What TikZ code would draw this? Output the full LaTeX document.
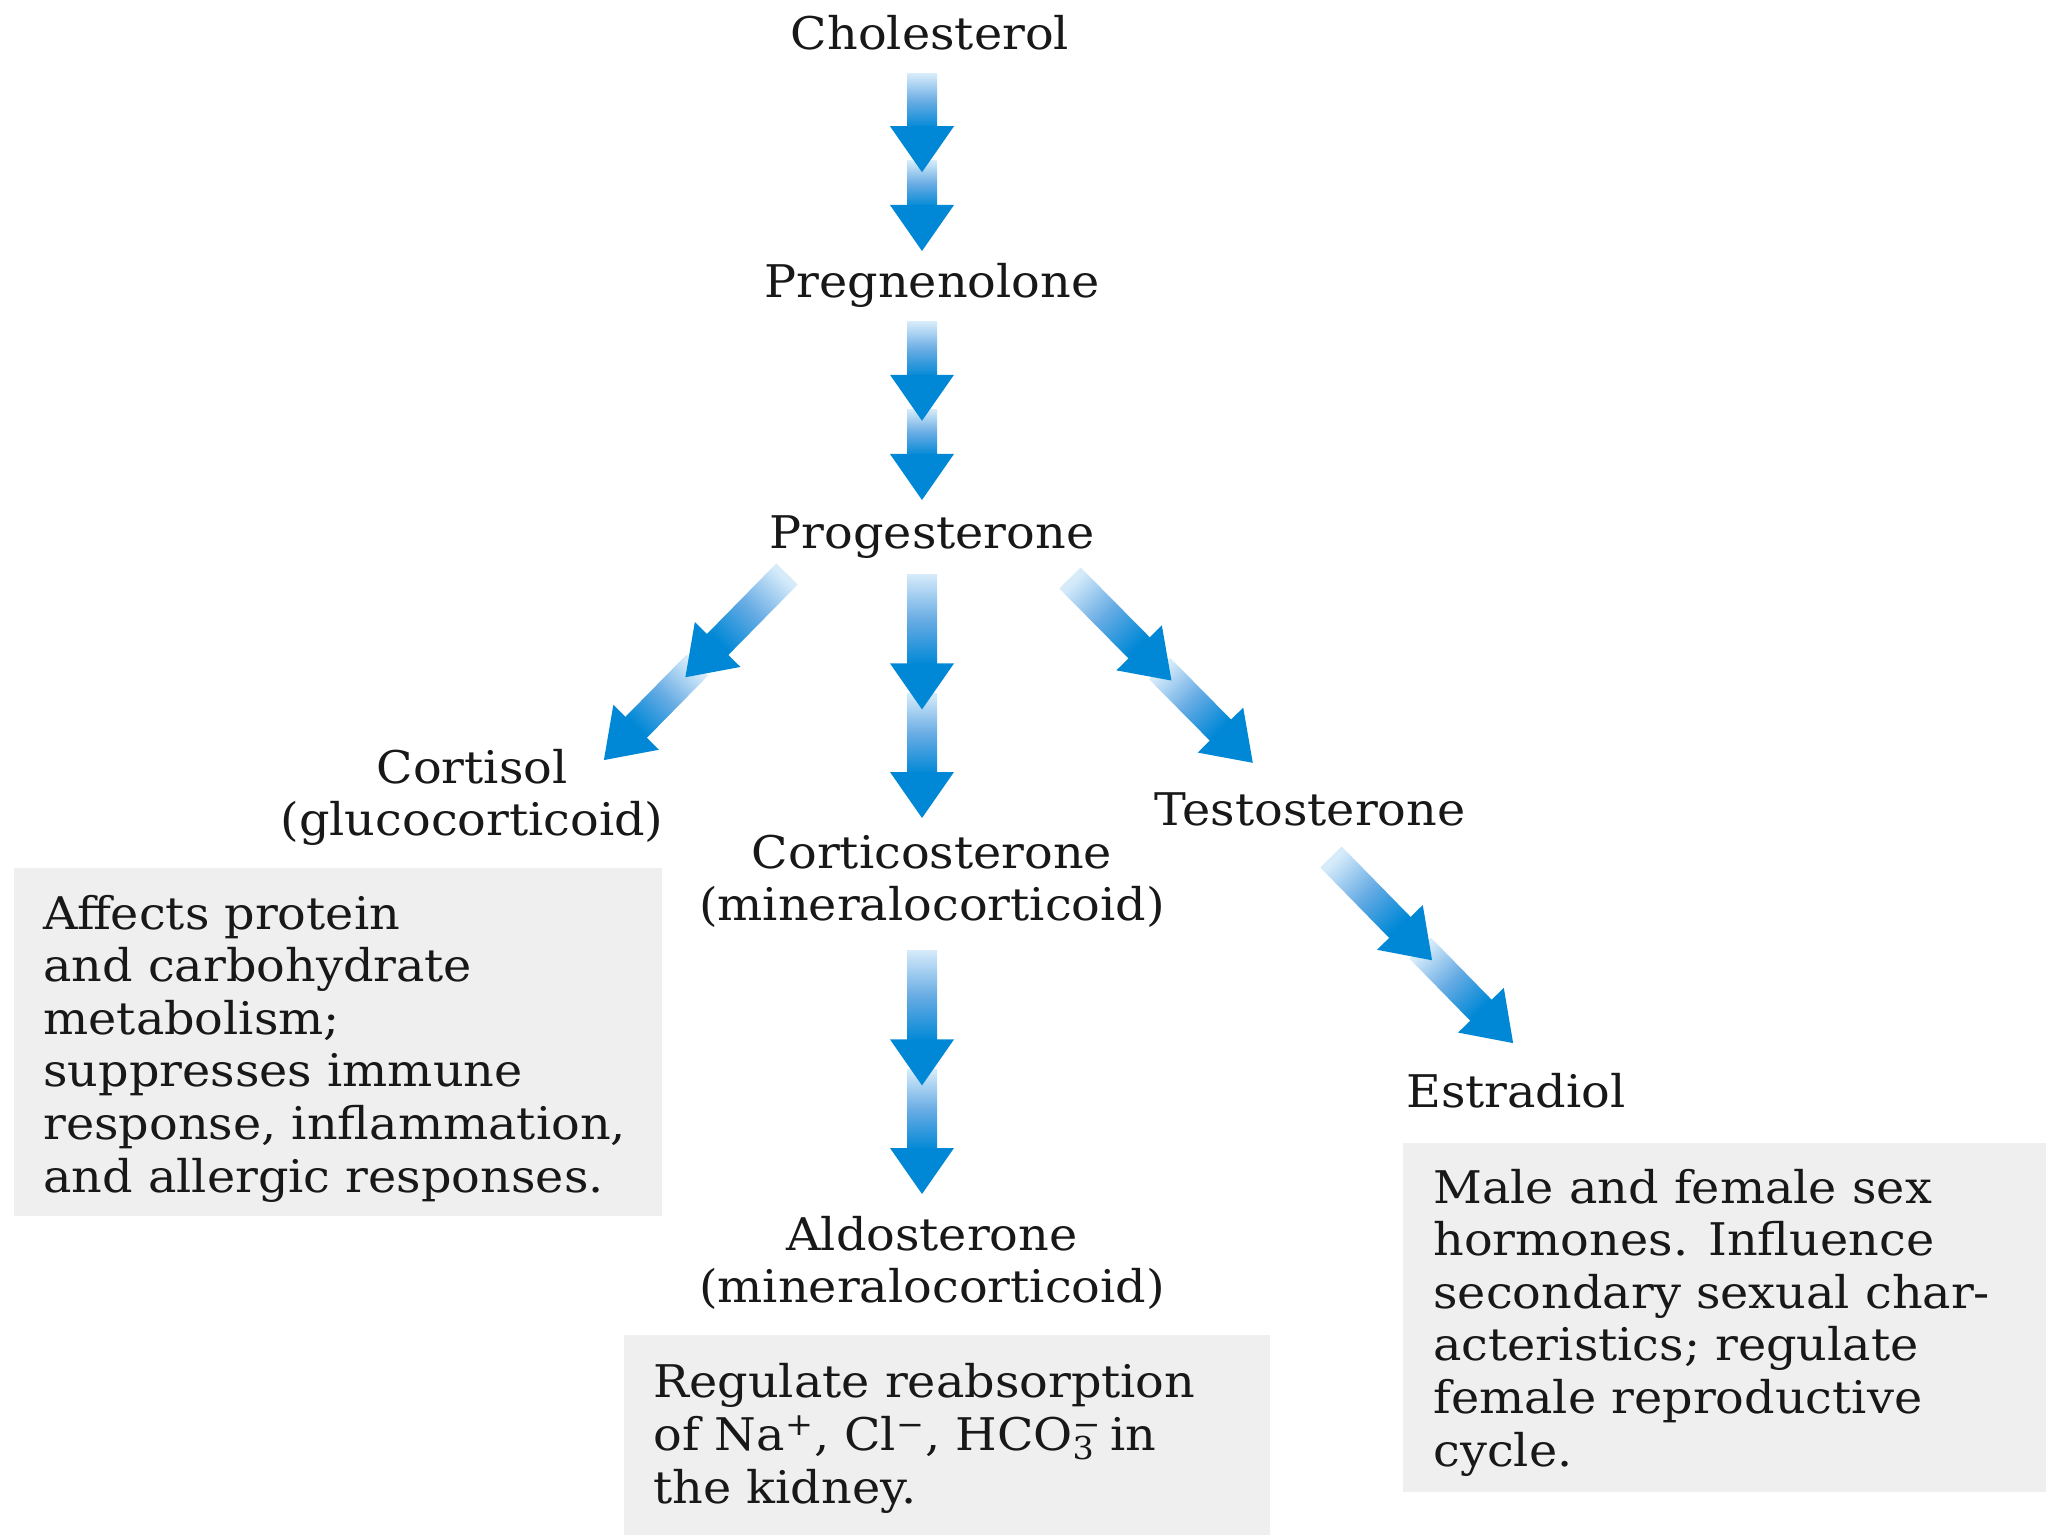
\documentclass[tikz,border=0pt]{standalone}
\usepackage{fontspec}
\setmainfont{DejaVu Serif}[FakeStretch=1.06]
\usetikzlibrary{calc}

\definecolor{arrblue}{RGB}{0,136,214}
\definecolor{arrlight}{RGB}{214,235,250}
\definecolor{arrmid}{RGB}{104,172,228}
\definecolor{boxgray}{RGB}{239,239,239}
\definecolor{inktext}{RGB}{24,24,24}

\tikzset{
  lbl/.style={font=\fontsize{22.5}{26}\selectfont, inner sep=0pt, align=center, text=inktext},
  desc/.style={font=\fontsize{22.5}{26.3}\selectfont, inner sep=0pt, align=left, text=inktext},
  descbox/.style={fill=boxgray, draw=none, inner sep=0pt, outer sep=0pt},
}

% Two-stage blue arrow from coordinate #1 to coordinate #2:
% a shaded shaft with a solid head, repeated twice along the way.
\newcommand\duoarrow[2]{%
  \path let \p1=($(#2)-(#1)$) in
    \pgfextra{\pgfmathsetmacro\dlen{veclen(\x1,\y1)}%
              \pgfmathsetmacro\dang{atan2(\y1,\x1)}%
              \pgfmathsetmacro\dshade{\dang+90}%
              \xdef\dalen{\dlen}\xdef\daang{\dang}\xdef\dashade{\dshade}};
  \begin{scope}[shift={(#1)},rotate=\daang]
    \pgfmathsetmacro\tipa{0.555*\dalen}%
    \pgfmathsetmacro\basea{\tipa-23}%
    \pgfmathsetmacro\startb{0.49*\dalen}%
    \pgfmathsetmacro\baseb{\dalen-23}%
    \shade[top color=arrlight, bottom color=arrblue, middle color=arrmid, shading angle=\dashade]
      (0pt,-7.5pt) rectangle (\basea pt+1pt,7.5pt);
    \shade[top color=arrlight, bottom color=arrblue, middle color=arrmid, shading angle=\dashade]
      (\startb pt,-7.5pt) rectangle (\baseb pt+1pt,7.5pt);
    \fill[arrblue] (\basea pt,-16pt) -- (\tipa pt,0pt) -- (\basea pt,16pt) -- cycle;
    \fill[arrblue] (\baseb pt,-16pt) -- (\dalen pt,0pt) -- (\baseb pt,16pt) -- cycle;
  \end{scope}}

\begin{document}
\begin{tikzpicture}[x=0.5pt,y=-0.5pt]
\useasboundingbox[fill=white] (0,0) rectangle (2046,1535);

% compound names (multi-line nodes sit on the baseline of their last line)
\node[lbl, anchor=base] (chol)  at (930,50)   {Cholesterol};
\node[lbl, anchor=base] (preg)  at (932,298)  {Pregnenolone};
\node[lbl, anchor=base] (prog)  at (932,548)  {Progesterone};
\node[lbl, anchor=base] (cort)  at (472,835)  {Cortisol\\(glucocorticoid)};
\node[lbl, anchor=base] (corti) at (932,920)  {Corticosterone\\(mineralocorticoid)};
\node[lbl, anchor=base] (testo) at (1310,825) {Testosterone};
\node[lbl, anchor=base] (estra) at (1516,1107){Estradiol};
\node[lbl, anchor=base] (aldo)  at (932,1302) {Aldosterone\\(mineralocorticoid)};

% effect panels
\node[descbox, anchor=north west, minimum width=324pt, minimum height=174pt] (effcort) at (14,868) {};
\node[desc, anchor=base west] (effcorttext) at (43,1192)
  {Affects protein\\and carbohydrate\\metabolism;\\suppresses immune\\response, inflammation,\\and allergic responses.};

\node[descbox, anchor=north west, minimum width=323pt, minimum height=100pt] (effaldo) at (624,1335) {};
\node[desc, anchor=base west] (effaldotext) at (653,1503)
  {Regulate reabsorption\\of Na\textsuperscript{+}, Cl\textsuperscript{−}, HCO\rlap{\textsuperscript{−}}\textsubscript{3} in\\the kidney.};

\node[descbox, anchor=north west, minimum width=321.5pt, minimum height=174.5pt] (effsex) at (1403,1143) {};
\node[desc, anchor=base west] (effsextext) at (1433,1466)
  {Male and female sex\\hormones. Influence\\secondary sexual char-\\acteristics; regulate\\female reproductive\\cycle.};

% arrow end points
\coordinate (a1s) at (922,74);   \coordinate (a1e) at (922,251);
\coordinate (a2s) at (922,322);  \coordinate (a2e) at (922,500);
\coordinate (a3s) at (787,574);  \coordinate (a3e) at (603,761);
\coordinate (a4s) at (922,574);  \coordinate (a4e) at (922,818);
\coordinate (a5s) at (1070,578); \coordinate (a5e) at (1253,763);
\coordinate (a6s) at (1331,857); \coordinate (a6e) at (1514,1044);
\coordinate (a7s) at (922,950);  \coordinate (a7e) at (922,1194);

\duoarrow{a1s}{a1e}
\duoarrow{a2s}{a2e}
\duoarrow{a3s}{a3e}
\duoarrow{a4s}{a4e}
\duoarrow{a5s}{a5e}
\duoarrow{a6s}{a6e}
\duoarrow{a7s}{a7e}
\end{tikzpicture}
\end{document}
